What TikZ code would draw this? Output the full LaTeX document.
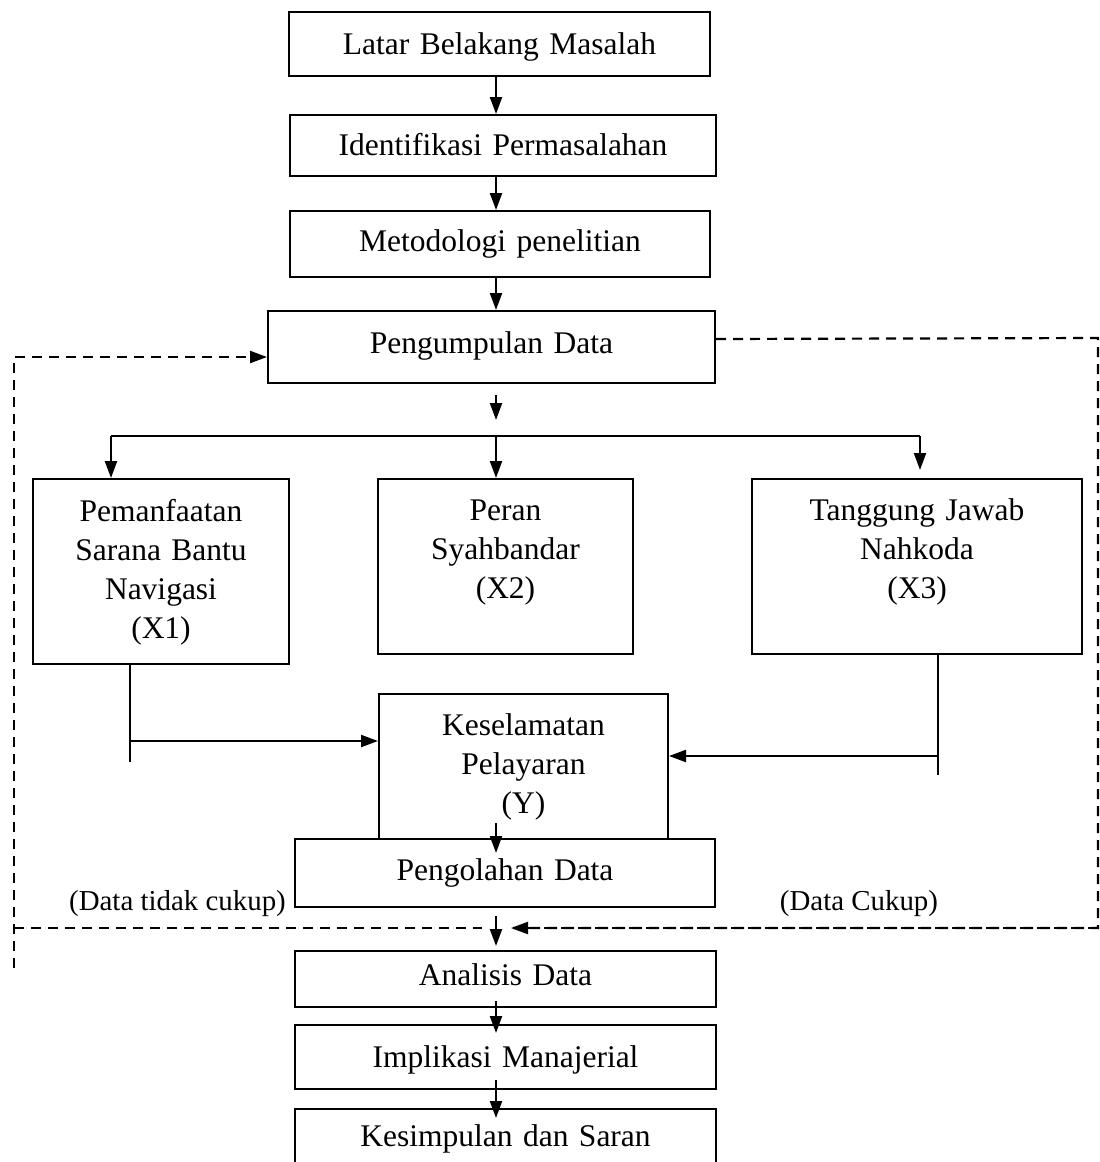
\documentclass[tikz,border=0pt]{standalone}
\usepackage{fontspec}
\setmainfont{Liberation Serif}
\usepackage{tikz}
\usetikzlibrary{arrows.meta}

\tikzset{
	kotak/.style={draw, line width=2pt, inner sep=0pt, anchor=north, align=center,
		font=\fontsize{31.5}{39}\selectfont},
	ket/.style={inner sep=0pt, anchor=base, font=\fontsize{28.9}{34}\selectfont},
	garis/.style={line width=1.6pt},
	panah/.style={line width=2.2pt, -{Triangle[length=17pt,width=12pt]}},
	putus/.style={line width=2.2pt, dash pattern=on 10pt off 7pt}
}

\begin{document}
\begin{tikzpicture}[x=1pt, y=-1pt]
				\useasboundingbox (0,0) rectangle (1100,1162);

				% alur utama
				\node[kotak, text width=421pt, text height=42pt, text depth=22pt] (lbm) at (499.5,11) {Latar Belakang Masalah};
				\node[kotak, text width=426pt, text height=40pt, text depth=21pt] (idp) at (503,114) {Identifikasi Permasalahan};
				\node[kotak, text width=420pt, text height=40pt, text depth=26pt] (met) at (500,210) {Metodologi penelitian};
				\node[kotak, text width=447pt, text height=42pt, text depth=30pt] (kumpul) at (491.5,310) {Pengumpulan Data};

				% variabel
				\node[kotak, text width=256pt, text height=42pt, text depth=143pt] (x1) at (161,478) {Pemanfaatan\\Sarana Bantu\\Navigasi\\(X1)};
				\node[kotak, text width=255pt, text height=41pt, text depth=134pt] (x2) at (505.5,478) {Peran\\Syahbandar\\(X2)};
				\node[kotak, text width=330pt, text height=41pt, text depth=134pt] (x3) at (917,478) {Tanggung Jawab\\Nahkoda\\(X3)};
				\node[kotak, text width=289pt, text height=41pt, text depth=104pt] (y) at (523.5,693) {Keselamatan\\Pelayaran\\(Y)};

				\node[kotak, fill=white, text width=420pt, text height=41pt, text depth=27pt] (olah) at (505,838) {Pengolahan Data};
				\node[kotak, text width=421pt, text height=34pt, text depth=22pt] (analisis) at (505.5,950) {Analisis Data};
				\node[kotak, text width=421pt, text height=42pt, text depth=22pt] (impl) at (505.5,1024) {Implikasi Manajerial};
				\node[kotak, text width=421pt, text height=37pt, text depth=25pt] (kes) at (505.5,1108) {Kesimpulan dan Saran};

				\node[ket] (tidak) at (177.5,910) {(Data tidak cukup)};
				\node[ket] (cukup) at (859,910) {(Data Cukup)};

				\coordinate (sumbu) at (496,0);
				\coordinate (cabang) at (496,436);
				\coordinate (kiri) at (111,436);
				\coordinate (kanan) at (920,436);
				\coordinate (a1) at (130,741);
				\coordinate (a3) at (938,756);

				% panah tengah
				\foreach \dari/\ke in {lbm/idp, idp/met, met/kumpul}
				\draw[panah] (\dari.south -| sumbu) -- (\ke.north -| sumbu);
				\draw[panah] ([yshift=-11pt]kumpul.south -| sumbu) -- ([yshift=16pt]cabang);

				\draw[garis] (kiri) -- (kanan);
				\draw[panah] (kiri) -- (kiri |- x1.north);
				\draw[panah] (cabang) -- (cabang |- x2.north);
				\draw[panah] (kanan) -- ([yshift=8pt]kanan |- x3.north);

				\draw[garis] (a1 |- x1.south) -- ++(0,97);
				\draw[panah] (a1) -- (a1 -| y.west);
				\draw[garis] (a3 |- x3.south) -- ++(0,120);
				\draw[panah] (a3) -- (a3 -| y.east);

				\draw[panah] ([yshift=15pt]olah.north -| sumbu) -- ([yshift=-15pt]olah.north -| sumbu);
				\draw[panah] ([yshift=-8pt]olah.south -| sumbu) -- ([yshift=4pt]analisis.north -| sumbu);
				\draw[panah] ([yshift=7pt]analisis.south -| sumbu) -- ([yshift=-9pt]impl.north -| sumbu);
				\draw[panah] ([yshift=10pt]impl.south -| sumbu) -- ([yshift=-10pt]kes.north -| sumbu);

				% umpan balik
				\coordinate (ka1) at (1098,338);
				\coordinate (ka2) at (1098,928);
				\coordinate (ki1) at (14,357);
				\coordinate (ki2) at (14,968);
				\coordinate (ki3) at (14,928);
				\draw[putus] ([yshift=8pt]kumpul.east) -- (ka1) -- (ka2) -- (511,928);
				\draw[putus, -{Triangle[length=17pt,width=12pt]}] (ka2) -- ([xshift=15pt]ka2 -| sumbu);
				\draw[putus, -{Triangle[length=17pt,width=12pt]}] (ki2) -- (ki1) -- (ki1 -| kumpul.west);
				\draw[putus, shorten >=14pt] (ki3) -- (ki3 -| sumbu);

			\end{tikzpicture}
\end{document}
